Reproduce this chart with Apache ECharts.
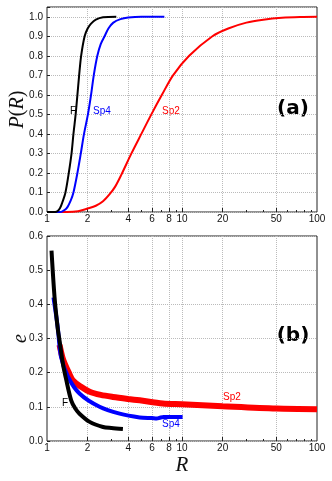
<!DOCTYPE html>
<html>
<head>
<meta charset="utf-8">
<script src="https://cdn.jsdelivr.net/npm/echarts@6/dist/echarts.min.js"></script>
<style>
html, body { margin: 0; padding: 0; background: #fff; }
#chart { width: 332px; height: 481px; }
</style>
</head>
<body>
<div id="chart"></div>
<script>
// panel (a): cumulative P(R)
var aF_R   = [1.0, 1.15, 1.2, 1.25, 1.3, 1.37, 1.45, 1.52, 1.57, 1.63, 1.68, 1.73, 1.79, 1.9, 2.0, 2.12, 2.3, 2.6, 3.26];
var aF_P   = [0, 0, 0.005, 0.02, 0.05, 0.1, 0.2, 0.3, 0.4, 0.5, 0.6, 0.7, 0.8, 0.9, 0.94, 0.965, 0.985, 0.997, 1.0];
var aSp4_R = [1.0, 1.25, 1.31, 1.4, 1.5, 1.57, 1.68, 1.78, 1.88, 2.01, 2.12, 2.22, 2.36, 2.5, 2.67, 2.85, 3.1, 3.5, 4.0, 5.0, 7.4];
var aSp4_P = [0, 0, 0.005, 0.02, 0.06, 0.1, 0.2, 0.3, 0.4, 0.5, 0.6, 0.7, 0.8, 0.86, 0.9, 0.94, 0.97, 0.988, 0.996, 1.0, 1.0];
var aSp2_R = [1.0, 1.4, 1.7, 2.0, 2.3, 2.6, 2.9, 3.2, 3.55, 4.22, 5.0, 5.93, 7.1, 8.58, 11.3, 16.8, 22, 30, 40, 55, 75, 100];
var aSp2_P = [0, 0, 0.004, 0.018, 0.032, 0.055, 0.09, 0.13, 0.19, 0.3, 0.4, 0.5, 0.6, 0.7, 0.8, 0.9, 0.94, 0.97, 0.985, 0.995, 0.999, 1.0];

// panel (b): e vs R
var bF_R   = [1.08, 1.137, 1.2, 1.238, 1.31, 1.39, 1.51, 1.62, 1.74, 2.07, 2.6, 3.0, 3.65];
var bF_e   = [0.557, 0.422, 0.33, 0.295, 0.227, 0.178, 0.119, 0.095, 0.08, 0.056, 0.041, 0.038, 0.035];
var bSp4_R = [1.117, 1.2, 1.27, 1.43, 1.74, 2.45, 3.45, 4.86, 6.0, 6.5, 6.84, 7.3, 8.0, 10.1];
var bSp4_e = [0.42, 0.334, 0.246, 0.188, 0.139, 0.1, 0.08, 0.069, 0.067, 0.066, 0.068, 0.07, 0.07, 0.07];
var bSp2_R = [1.238, 1.3, 1.35, 1.45, 1.55, 1.8, 2.07, 2.5, 3.08, 4.0, 4.86, 7.2, 10, 20, 50, 100];
var bSp2_e = [0.281, 0.245, 0.227, 0.2, 0.178, 0.158, 0.144, 0.135, 0.129, 0.123, 0.119, 0.11, 0.1076, 0.1018, 0.095, 0.093];

// axis ticks
var xLabelVals = [1, 2, 4, 6, 8, 10, 20, 50, 100];
var xGridVals  = [2, 4, 6, 8, 10, 20, 50];
var xMinorVals = [3, 5, 7, 9, 30, 40, 60, 70, 80, 90];

function pairs(xs, ys) {
    return xs.map(function(x, i) { return [x, ys[i]]; });
}

var labelFont = { fontFamily: 'Liberation Sans', fontSize: 10, color: '#111' };
var gridLine = { show: true, lineStyle: { color: '#bbb', type: 'dotted', width: 1 } };

function mainX(gridIndex, name) {
    return {
        type: 'log', logBase: 10, gridIndex: gridIndex, min: 1, max: 100, position: 'bottom',
        axisLine: { show: false },
        axisTick: { show: true, inside: true, length: 4, customValues: xGridVals, lineStyle: { color: '#222' } },
        axisLabel: Object.assign({ customValues: xLabelVals, margin: 2, formatter: function(v) { return String(Math.round(v)); } }, labelFont),
        splitLine: gridLine,
        name: name, nameLocation: 'middle', nameGap: 14,
        nameTextStyle: { fontFamily: 'Liberation Serif', fontStyle: 'italic', fontSize: 21, color: '#111' }
    };
}
function minorX(gridIndex) {
    return {
        type: 'log', logBase: 10, gridIndex: gridIndex, min: 1, max: 100, position: 'bottom',
        axisLine: { show: false },
        axisTick: { show: true, inside: true, length: 2, customValues: xMinorVals, lineStyle: { color: '#222' } },
        axisLabel: { show: false },
        splitLine: { show: false }
    };
}
function yAx(gridIndex, max, nameRich, gap) {
    return {
        type: 'value', gridIndex: gridIndex, min: 0, max: max, interval: 0.1,
        axisLine: { show: false },
        axisTick: { show: true, inside: true, length: 3, lineStyle: { color: '#222' } },
        axisLabel: Object.assign({ margin: 4, formatter: function(v) { return v > 1.01 ? '' : v.toFixed(1); } }, labelFont),
        splitLine: gridLine,
        name: nameRich, nameLocation: 'middle', nameRotate: 90, nameGap: gap, nameMoveOverlap: false,
        nameTextStyle: {
            fontFamily: 'Liberation Serif', fontSize: 20, color: '#111',
            rich: {
                i: { fontFamily: 'Liberation Serif', fontStyle: 'italic', fontSize: 20, color: '#111' },
                n: { fontFamily: 'Liberation Serif', fontSize: 20, color: '#111' }
            }
        }
    };
}
function line(name, xi, yi, data, color, width) {
    return {
        name: name, type: 'line', xAxisIndex: xi, yAxisIndex: yi, data: data,
        showSymbol: false, smooth: 0.3, silent: true,
        lineStyle: { color: color, width: width }
    };
}
function tag(text, x, y, color, font) {
    return {
        type: 'text', x: x, y: y, silent: true,
        style: { text: text, fill: color, font: font, align: 'center', verticalAlign: 'middle',
                 textAlign: 'center', textVerticalAlign: 'middle' }
    };
}

var myChart = echarts.init(document.getElementById('chart'));
var option = {
    animation: false,
    backgroundColor: '#fff',
    grid: [
        { left: 47, top: 7, width: 270, height: 205, show: true, borderColor: '#222', borderWidth: 1, backgroundColor: 'transparent', containLabel: false, outerBoundsMode: 'none' },
        { left: 47, top: 236, width: 270, height: 205, show: true, borderColor: '#222', borderWidth: 1, backgroundColor: 'transparent', containLabel: false, outerBoundsMode: 'none' }
    ],
    xAxis: [mainX(0, ''), minorX(0), mainX(1, 'R'), minorX(1)],
    yAxis: [yAx(0, 1.05, '{i|P}{n|(}{i|R}{n|)}', 19), yAx(1, 0.6, '{i|e}', 16)],
    series: [
        line('Sp2', 0, 0, pairs(aSp2_R, aSp2_P), '#ff0000', 2),
        line('Sp4', 0, 0, pairs(aSp4_R, aSp4_P), '#0000ff', 2),
        line('F', 0, 0, pairs(aF_R, aF_P), '#000000', 2),
        line('Sp2', 2, 1, pairs(bSp2_R, bSp2_e), '#ff0000', 6),
        line('Sp4', 2, 1, pairs(bSp4_R, bSp4_e), '#0000ff', 4),
        line('F', 2, 1, pairs(bF_R, bF_e), '#000000', 4)
    ],
    graphic: [
        tag('F', 73, 111, '#000', '10px "Liberation Sans"'),
        tag('Sp4', 102, 111, '#0000ff', '10px "Liberation Sans"'),
        tag('Sp2', 171, 111, '#ff0000', '10px "Liberation Sans"'),
        tag('(a)', 293, 109, '#000', 'bold 20px "DejaVu Sans"'),
        tag('F', 65, 403, '#000', '10px "Liberation Sans"'),
        tag('Sp4', 171, 424, '#0000ff', '10px "Liberation Sans"'),
        tag('Sp2', 232, 397, '#ff0000', '10px "Liberation Sans"'),
        tag('(b)', 293, 336, '#000', 'bold 20px "DejaVu Sans"')
    ]
};
myChart.setOption(option);
</script>
</body>
</html>
